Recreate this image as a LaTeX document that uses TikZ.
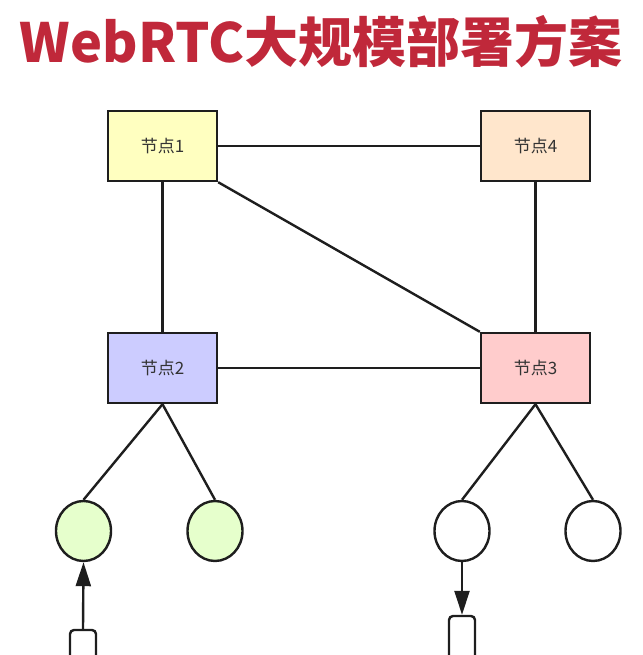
\documentclass[tikz,border=0pt]{standalone}
\usepackage{fontspec}
\newfontfamily\cjk{Noto Sans CJK SC}
\usetikzlibrary{shapes.geometric,arrows.meta}
\definecolor{titlered}{RGB}{192,40,58}
\definecolor{edgegray}{RGB}{30,30,30}
\tikzset{
  nodebox/.style={draw=edgegray,line width=2.4pt,minimum width=109pt,minimum height=70pt,inner sep=0pt,
    font=\cjk\fontsize{17}{17}\selectfont,text=black!80},
  peer/.style={ellipse,draw=edgegray,line width=2.4pt,minimum width=55pt,minimum height=60pt,inner sep=0pt},
  client/.style={draw=edgegray,line width=2.4pt,rounded corners=4pt,minimum width=26pt,minimum height=60pt,inner sep=0pt},
  link/.style={draw=edgegray,line width=2.4pt},
  push/.style={link,-{Triangle[length=24pt,width=15pt]}}
}
\begin{document}
\begin{tikzpicture}[x=1pt,y=-1pt]
  \useasboundingbox (0,0) rectangle (642,655);
  \clip (0,0) rectangle (642,655);
  \node[font=\cjk\bfseries\fontsize{54}{54}\selectfont,text=titlered] (title) at (321,42) {WebRTC大规模部署方案};
  \node[nodebox,fill={rgb,255:red,255;green,255;blue,192}] (n1) at (162.5,146) {节点1};
  \node[nodebox,fill={rgb,255:red,255;green,230;blue,204}] (n4) at (535.5,146) {节点4};
  \node[nodebox,fill={rgb,255:red,204;green,204;blue,255}] (n2) at (162.5,368) {节点2};
  \node[nodebox,fill={rgb,255:red,255;green,204;blue,204}] (n3) at (535.5,368) {节点3};
  \node[peer,fill={rgb,255:red,230;green,255;blue,204}] (u1) at (83.5,531) {};
  \node[peer,fill={rgb,255:red,230;green,255;blue,204}] (u2) at (215,531) {};
  \node[peer,fill=white] (u3) at (462,531) {};
  \node[peer,fill=white] (u4) at (593,531) {};
  \node[client] (c1) at (83,660) {};
  \node[client] (c2) at (462,646) {};
  \draw[link] (n1.east) -- (n4.west);
  \draw[link] (n1.south) -- (n2.north);
  \draw[link] (n1.south east) -- (n3.north west);
  \draw[link] (n4.south) -- (n3.north);
  \draw[link] (n2.east) -- (n3.west);
  \draw[link] (n2.south) -- (u1.north);
  \draw[link] (n2.south) -- (u2.north);
  \draw[link] (n3.south) -- (u3.north);
  \draw[link] (n3.south) -- (u4.north);
  \draw[push] (c1.north) -- (u1.south);
  \draw[push] (u3.south) -- (c2.north);
\end{tikzpicture}
\end{document}
